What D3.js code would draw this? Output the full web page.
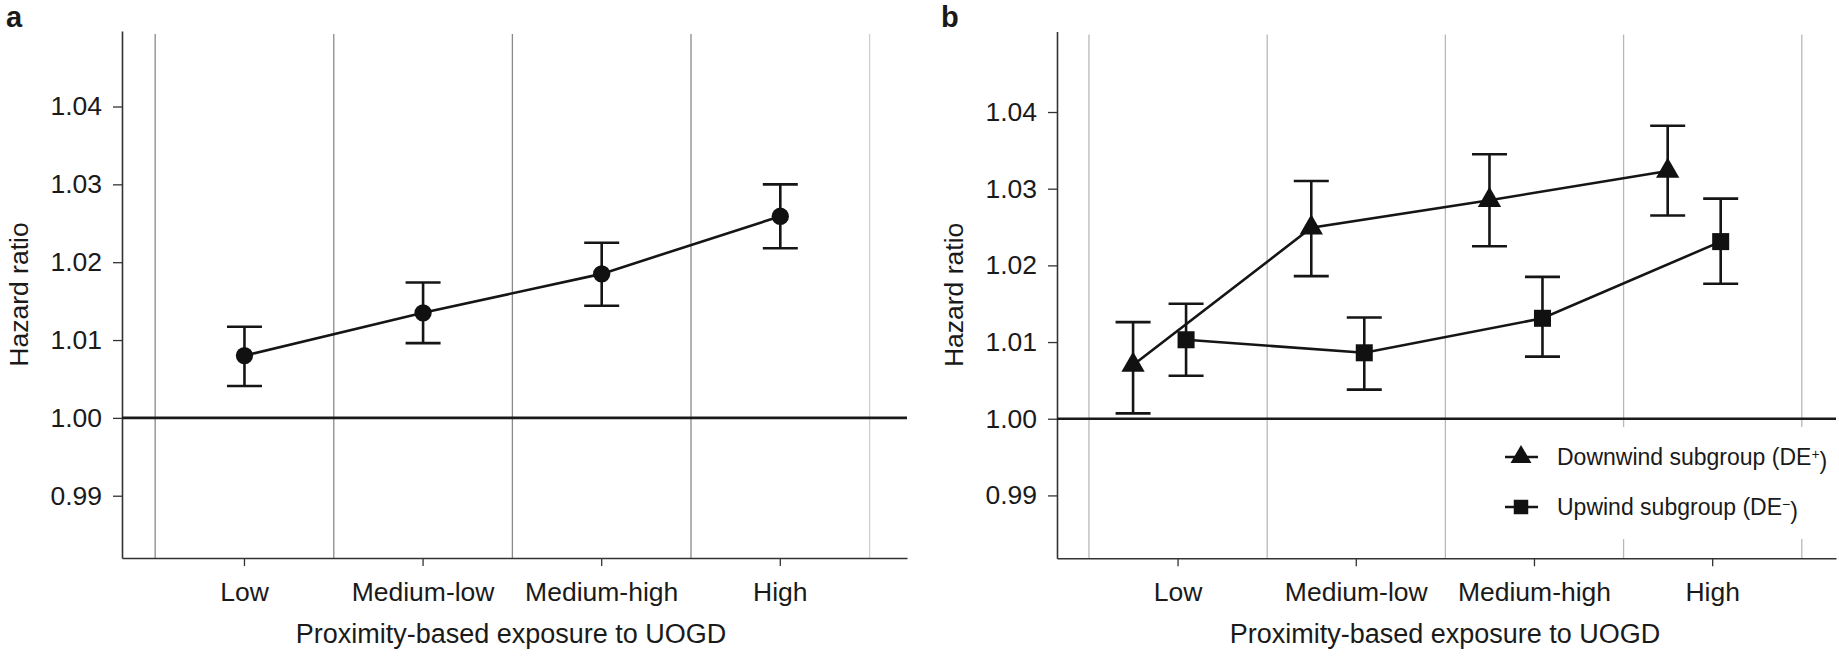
<!DOCTYPE html>
<html>
<head>
<meta charset="utf-8">
<script src="https://cdn.jsdelivr.net/npm/d3@7"></script>
<style>
  html, body { margin: 0; padding: 0; background: #fff; }
  svg { display: block; }
  text { font-family: "Liberation Sans", Arial, Helvetica, sans-serif; fill: #1a1a1a; }
</style>
</head>
<body>
<svg id="chart" width="1839" height="656"></svg>
<script>
// ---------------- DATA ----------------
const categories = ["Low", "Medium-low", "Medium-high", "High"];
const yTickValues = [0.99, 1.00, 1.01, 1.02, 1.03, 1.04];
const yTickLabels = ["0.99", "1.00", "1.01", "1.02", "1.03", "1.04"];

// Panel a: overall hazard ratios with 95% CI
const overallHR = [1.0080, 1.0135, 1.0185, 1.0259];
const overallLo = [1.0041, 1.0096, 1.0144, 1.0218];
const overallHi = [1.0117, 1.0174, 1.0225, 1.0300];

// Panel b: downwind subgroup (DE+)
const downHR = [1.0070, 1.0249, 1.0285, 1.0323];
const downLo = [1.0007, 1.0186, 1.0225, 1.0265];
const downHi = [1.0126, 1.0310, 1.0345, 1.0382];

// Panel b: upwind subgroup (DE-)
const upHR = [1.0103, 1.0086, 1.0131, 1.0231];
const upLo = [1.0056, 1.0038, 1.0081, 1.0176];
const upHi = [1.0150, 1.0132, 1.0185, 1.0287];

const xTitle = "Proximity-based exposure to UOGD";
const yTitle = "Hazard ratio";
const refValue = 1.00;

// ---------------- LAYOUT ----------------
const svg = d3.select("#chart");
const fontSize = 26.5;
const titleSize = 27;

const panels = [
  { label: "a", labelX: 6, x0: 122, x1: 907, yTop: 31, yBot: 558, yDomain: [0.982, 1.0497],
    po: 0.1975, align: 0.47, gridColor: "#8a8a8a", lastGridColor: "#cfcfcf", yTitleX: 28, titleX: 511 },
  { label: "b", labelX: 941, x0: 1057, x1: 1836, yTop: 31.5, yBot: 558.3, yDomain: [0.9818, 1.0505],
    po: 0.1857, align: 0.483, gridColor: "#b8b8b8", lastGridColor: "#b8b8b8", yTitleX: 963, titleX: 1445 }
];

function buildPanel(p) {
  const g = svg.append("g");
  const x = d3.scaleBand().domain(categories).range([p.x0, p.x1])
    .paddingInner(0).paddingOuter(p.po).align(p.align);
  const y = d3.scaleLinear().domain(p.yDomain).range([p.yBot, p.yTop]);
  const gridTop = p.yTop + 3;

  // vertical grid lines at band boundaries
  const bounds = categories.map(c => x(c)).concat([x(categories[categories.length - 1]) + x.step()]);
  g.append("g").selectAll("line").data(bounds).join("line")
    .attr("x1", d => d).attr("x2", d => d)
    .attr("y1", gridTop).attr("y2", p.yBot)
    .attr("stroke", (d, i) => i === bounds.length - 1 ? p.lastGridColor : p.gridColor)
    .attr("stroke-width", 1.3);

  // y axis
  const yAxis = d3.axisLeft(y).tickValues(yTickValues)
    .tickFormat((d, i) => yTickLabels[i]).tickSize(9).tickPadding(11).tickSizeOuter(0);
  const ya = g.append("g").attr("transform", `translate(${p.x0},0)`).call(yAxis);
  ya.select(".domain").attr("stroke", "#333").attr("stroke-width", 1.6);
  ya.selectAll(".tick line").attr("stroke", "#333").attr("stroke-width", 1.3);
  ya.selectAll(".tick text").style("font-size", fontSize + "px").attr("fill", "#1a1a1a");

  // x axis
  const xAxis = d3.axisBottom(x).tickSize(8).tickPadding(16).tickSizeOuter(0);
  const xa = g.append("g").attr("transform", `translate(0,${p.yBot})`).call(xAxis);
  xa.select(".domain").attr("stroke", "#333").attr("stroke-width", 1.6);
  xa.selectAll(".tick line").attr("stroke", "#333").attr("stroke-width", 1.3);
  xa.selectAll(".tick text").style("font-size", fontSize + "px").attr("fill", "#1a1a1a");

  // reference line at 1.00
  g.append("line")
    .attr("x1", p.x0).attr("x2", p.x1)
    .attr("y1", y(refValue)).attr("y2", y(refValue))
    .attr("stroke", "#1a1a1a").attr("stroke-width", 2.6);

  // titles
  g.append("text").attr("x", p.titleX).attr("y", 643)
    .attr("text-anchor", "middle").style("font-size", titleSize + "px").text(xTitle);
  g.append("text").attr("transform", `translate(${p.yTitleX},${(p.yTop + p.yBot) / 2}) rotate(-90)`)
    .attr("text-anchor", "middle").style("font-size", fontSize + "px").text(yTitle);
  g.append("text").attr("x", p.labelX).attr("y", 27)
    .style("font-size", "29px").style("font-weight", "bold").text(p.label);

  return { g, x, y };
}

function drawSeries(ctx, hr, lo, hi, dx, symbolType, symbolSize) {
  const { g, x, y } = ctx;
  const cx = c => x(c) + x.bandwidth() / 2 + dx;
  const pts = categories.map((c, i) => ({ c, hr: hr[i], lo: lo[i], hi: hi[i] }));
  const capHalf = 17.5;
  const sg = g.append("g");

  // connecting line
  sg.append("path").datum(pts)
    .attr("d", d3.line().x(d => cx(d.c)).y(d => y(d.hr)))
    .attr("fill", "none").attr("stroke", "#151515").attr("stroke-width", 2.6);

  // error bars
  const eb = sg.append("g").attr("stroke", "#151515").attr("stroke-width", 2.6);
  eb.selectAll("line.v").data(pts).join("line").attr("class", "v")
    .attr("x1", d => cx(d.c)).attr("x2", d => cx(d.c))
    .attr("y1", d => y(d.lo)).attr("y2", d => y(d.hi));
  eb.selectAll("line.t").data(pts).join("line").attr("class", "t")
    .attr("x1", d => cx(d.c) - capHalf).attr("x2", d => cx(d.c) + capHalf)
    .attr("y1", d => y(d.hi)).attr("y2", d => y(d.hi));
  eb.selectAll("line.b").data(pts).join("line").attr("class", "b")
    .attr("x1", d => cx(d.c) - capHalf).attr("x2", d => cx(d.c) + capHalf)
    .attr("y1", d => y(d.lo)).attr("y2", d => y(d.lo));

  // markers
  sg.selectAll("path.m").data(pts).join("path").attr("class", "m")
    .attr("transform", d => `translate(${cx(d.c)},${y(d.hr)})`)
    .attr("d", d3.symbol().type(symbolType).size(symbolSize))
    .attr("fill", "#111");
}

// ----- Panel a -----
const A = buildPanel(panels[0]);
drawSeries(A, overallHR, overallLo, overallHi, 0, d3.symbolCircle, 235);

// ----- Panel b -----
const B = buildPanel(panels[1]);

// legend background (interrupts grid lines)
B.g.append("rect").attr("x", 1490).attr("y", 427).attr("width", 349).attr("height", 112).attr("fill", "#fff");

drawSeries(B, downHR, downLo, downHi, -45, d3.symbolTriangle, 235);
drawSeries(B, upHR, upLo, upHi, 8, d3.symbolSquare, 290);

// legend
const legendItems = [
  { name: "Downwind subgroup (DE", sup: "+", sym: d3.symbolTriangle, size: 190 },
  { name: "Upwind subgroup (DE", sup: "\u2212", sym: d3.symbolSquare, size: 210 }
];
const legendY = [457, 507];
const lg = B.g.append("g");
legendItems.forEach((it, i) => {
  const yy = legendY[i];
  lg.append("line").attr("x1", 1505).attr("x2", 1538).attr("y1", yy).attr("y2", yy)
    .attr("stroke", "#151515").attr("stroke-width", 2.6);
  lg.append("path").attr("transform", `translate(1521,${yy})`)
    .attr("d", d3.symbol().type(it.sym).size(it.size)).attr("fill", "#111");
  const t = lg.append("text").attr("x", 1557).attr("y", yy).attr("dy", "0.35em")
    .style("font-size", "23px");
  t.append("tspan").text(it.name);
  t.append("tspan").attr("dy", "-0.45em").style("font-size", "14px").text(it.sup);
  t.append("tspan").attr("dy", "0.45em").text(")");
});
</script>
</body>
</html>
